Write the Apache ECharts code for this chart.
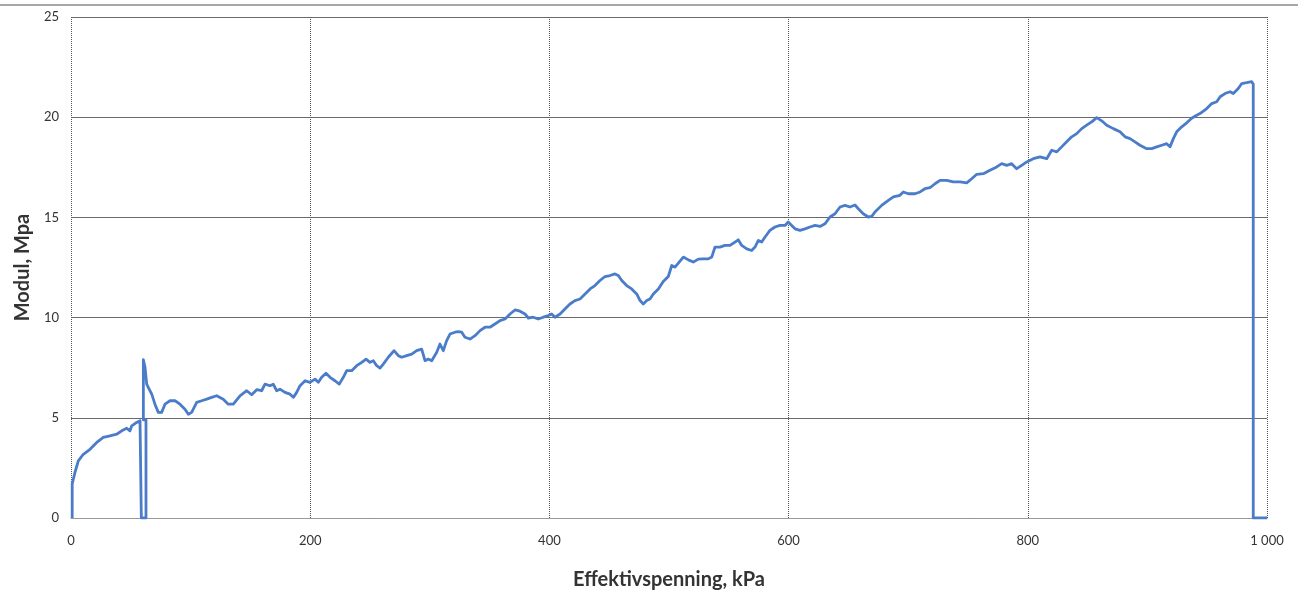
<!DOCTYPE html>
<html>
<head>
<meta charset="utf-8">
<title>Modul mot effektivspenning</title>
<script src="https://cdn.jsdelivr.net/npm/echarts@6/dist/echarts.min.js"></script>
<style>
  html, body { margin: 0; padding: 0; background: #ffffff; }
  #chart { width: 1298px; height: 595px; }
</style>
</head>
<body>
<div id="chart"></div>
<script>
// Effective stress (kPa) and modulus (MPa), in measurement order
const spenning = [
  1, 1, 3.3, 6.1, 10.3, 15.9, 21.5, 27.0, 32.6, 38.2, 42.4, 46.6, 49.3, 50.8, 54.9, 57.7, 58.8,
  58.8, 62.7, 62.7, 60.5, 60.5,
  61.9, 63.3, 64.6, 67.5, 70.2, 73.0, 75.8, 78.6, 82.8, 87.0, 91.1, 95.3, 98.1, 100.9,
  105.1, 109.3, 113.5, 117.6, 121.8, 127.3, 131.5, 135.7, 141.3, 146.9, 151.1, 155.3, 159.4,
  162.2, 166.4, 169.1, 172.0, 174.7, 178.9, 183.1, 185.9, 188.7, 191.5, 195.7, 199.8,
  204.0, 206.8, 209.6, 213.2, 216.6, 220.7, 224.3, 227.7, 230.5, 234.7, 238.9, 243.1,
  246.7, 250.0, 252.8, 255.6, 258.4, 261.1, 265.3, 270.1, 273.7, 276.5, 280.7, 284.9,
  289.0, 293.2, 296.0, 298.7, 301.6, 305.8, 308.5, 311.3, 314.1, 316.9, 321.1, 323.8,
  326.7, 329.4, 333.6, 337.8, 342.0, 346.2, 350.3, 354.5, 358.7, 362.9, 367.1, 371.2,
  375.4, 379.6, 382.4, 386.5, 390.7, 394.9, 399.1, 401.9, 404.7, 408.9, 413.0, 417.2,
  421.4, 425.6, 429.8, 434.0, 438.1, 442.3, 446.5, 450.7, 454.8, 457.6, 460.5, 464.6,
  468.8, 473.0, 475.8, 478.5, 481.4, 484.1, 486.9, 491.1, 495.2, 499.4, 502.3, 505.0,
  507.8, 512.0, 516.2, 520.3, 524.5, 528.7, 532.9, 535.7, 538.5, 542.6, 546.8, 551.0,
  555.2, 557.9, 560.8, 565.0, 569.1, 571.9, 574.7, 577.5, 580.3, 584.4, 588.6, 592.8,
  597.0, 599.7, 602.6, 605.4, 609.5, 613.7, 617.9, 622.1, 626.3, 630.4, 634.6, 638.8,
  643.0, 647.2, 651.3, 655.5, 658.3, 662.4, 666.6, 669.5, 672.2, 677.8, 683.4, 687.6,
  693.1, 695.9, 700.1, 705.7, 709.9, 714.0, 718.2, 722.4, 726.6, 732.2, 737.7, 743.3,
  748.9, 753.1, 757.3, 762.8, 768.4, 774.0, 778.2, 782.4, 786.5, 790.7, 794.9, 799.1,
  804.6, 810.2, 815.8, 820.0, 824.2, 828.3, 832.5, 836.7, 840.9, 845.1, 849.2, 853.4,
  857.6, 861.8, 866.0, 871.5, 877.1, 881.3, 885.5, 889.6, 893.8, 899.4, 903.6, 907.8,
  912.0, 916.1, 918.9, 921.7, 924.5, 928.7, 932.9, 937.0, 941.2, 944.0, 949.6, 953.8,
  958.0, 960.8, 964.9, 969.1, 971.8, 976.0, 978.9, 983.0, 987.2, 988.5,
  988.5, 1000
];
const modul = [
  0, 1.7, 2.27, 2.85, 3.18, 3.43, 3.77, 4.02, 4.1, 4.18, 4.35, 4.48, 4.35, 4.6, 4.77, 4.85, 4.8,
  0, 0, 4.9, 4.9, 7.9,
  7.52, 6.68, 6.52, 6.18, 5.68, 5.27, 5.27, 5.68, 5.85, 5.85, 5.68, 5.43, 5.18, 5.27,
  5.77, 5.85, 5.93, 6.02, 6.1, 5.93, 5.68, 5.68, 6.1, 6.35, 6.15, 6.4, 6.35,
  6.68, 6.6, 6.68, 6.35, 6.43, 6.27, 6.18, 6.02, 6.27, 6.6, 6.85, 6.77,
  6.93, 6.77, 7.02, 7.22, 7.02, 6.85, 6.68, 7.02, 7.35, 7.35, 7.6, 7.77,
  7.93, 7.77, 7.85, 7.6, 7.48, 7.68, 8.02, 8.35, 8.1, 8.02, 8.1, 8.18,
  8.35, 8.43, 7.85, 7.93, 7.85, 8.27, 8.68, 8.35, 8.85, 9.18, 9.27, 9.3,
  9.27, 9.02, 8.93, 9.1, 9.35, 9.52, 9.52, 9.68, 9.85, 9.93, 10.18, 10.38,
  10.32, 10.18, 9.98, 10.02, 9.93, 10.02, 10.1, 10.18, 10.02, 10.18, 10.43, 10.68,
  10.85, 10.93, 11.18, 11.43, 11.6, 11.85, 12.05, 12.1, 12.18, 12.1, 11.85, 11.6,
  11.43, 11.18, 10.85, 10.68, 10.85, 10.93, 11.18, 11.43, 11.8, 12.05, 12.6, 12.52,
  12.72, 13.02, 12.88, 12.77, 12.92, 12.93, 12.93, 13.02, 13.52, 13.52, 13.6, 13.6,
  13.77, 13.88, 13.6, 13.43, 13.35, 13.52, 13.85, 13.77, 14.02, 14.35, 14.52, 14.6,
  14.6, 14.77, 14.6, 14.43, 14.35, 14.43, 14.52, 14.6, 14.55, 14.68, 15.02, 15.18,
  15.52, 15.6, 15.52, 15.62, 15.43, 15.18, 15.02, 15.05, 15.27, 15.6, 15.85, 16.02,
  16.1, 16.27, 16.18, 16.18, 16.27, 16.43, 16.48, 16.68, 16.85, 16.85, 16.77, 16.77,
  16.72, 16.93, 17.15, 17.18, 17.35, 17.52, 17.68, 17.6, 17.68, 17.43, 17.6, 17.77,
  17.93, 18.02, 17.93, 18.35, 18.27, 18.52, 18.77, 19.02, 19.18, 19.43, 19.6, 19.77,
  19.98, 19.82, 19.6, 19.43, 19.27, 19.02, 18.93, 18.77, 18.6, 18.43, 18.43, 18.52,
  18.6, 18.68, 18.52, 18.93, 19.27, 19.52, 19.72, 19.95, 20.1, 20.18, 20.43, 20.68,
  20.77, 21.02, 21.18, 21.27, 21.18, 21.43, 21.68, 21.72, 21.77, 21.65,
  0, 0
];

// Axis ticks
const xTicks = [0, 200, 400, 600, 800, 1000];
const yTicks = [0, 5, 10, 15, 20, 25];

const punkter = spenning.map((x, i) => [x, modul[i]]);

const chart = echarts.init(document.getElementById('chart'), null, { renderer: 'canvas' });

const labelFont = 'Lato, "Open Sans", "Liberation Sans", sans-serif';

chart.setOption({
  animation: false,
  backgroundColor: '#ffffff',
  grid: { left: 71, right: 31, top: 17, bottom: 74, containLabel: false },
  graphic: [
    {
      type: 'line',
      shape: { x1: 0, y1: 5, x2: 1298, y2: 5 },
      style: { stroke: '#8a8a8a', lineWidth: 1.5 },
      silent: true
    }
  ],
  xAxis: {
    type: 'value',
    min: xTicks[0],
    max: xTicks[xTicks.length - 1],
    interval: xTicks[1] - xTicks[0],
    name: 'Effektivspenning, kPa',
    nameLocation: 'middle',
    nameGap: 52,
    nameTextStyle: { fontFamily: labelFont, fontWeight: 'bold', fontSize: 20, color: '#333333' },
    axisLine: { show: true, lineStyle: { color: '#9a9a9a', width: 1 } },
    axisTick: { show: false },
    axisLabel: {
      margin: 16,
      fontFamily: labelFont,
      fontSize: 13,
      color: '#333333',
      formatter: v => (v >= 1000 ? String(v).replace(/\B(?=(\d{3})+(?!\d))/g, ' ') : String(v))
    },
    splitLine: { show: true, lineStyle: { color: '#555555', width: 1, type: [1, 1] } }
  },
  yAxis: {
    type: 'value',
    min: yTicks[0],
    max: yTicks[yTicks.length - 1],
    interval: yTicks[1] - yTicks[0],
    name: 'Modul, Mpa',
    nameLocation: 'middle',
    nameGap: 38,
    nameTextStyle: { fontFamily: labelFont, fontWeight: 'bold', fontSize: 20, color: '#333333' },
    axisLine: { show: false },
    axisTick: { show: false },
    axisLabel: { margin: 12, fontFamily: labelFont, fontSize: 13, color: '#333333' },
    splitLine: { show: true, lineStyle: { color: '#6a6a6a', width: 1 } }
  },
  series: [
    {
      type: 'line',
      data: punkter,
      showSymbol: false,
      symbol: 'none',
      smooth: false,
      lineStyle: { color: '#4a7cc9', width: 2.8, join: 'round' },
      z: 5
    }
  ]
});
</script>
</body>
</html>
